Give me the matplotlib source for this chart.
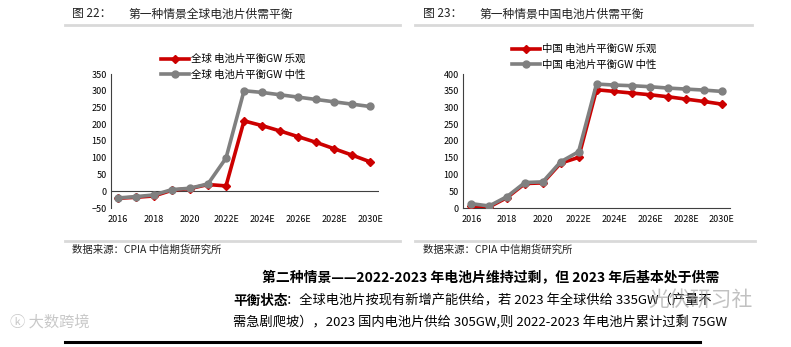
import matplotlib.pyplot as plt
from matplotlib.lines import Line2D

plt.rcParams['font.family'] = ['Noto Sans CJK SC', 'DejaVu Sans']

W, H = 791, 347

years = ['2016', '2017', '2018', '2019', '2020', '2021', '2022E', '2023E', '2024E',
         '2025E', '2026E', '2027E', '2028E', '2029E', '2030E']
tick_labels = ['2016', '2018', '2020', '2022E', '2024E', '2026E', '2028E', '2030E']

global_opt = [-21, -18, -14, 3, 8, 20, 16, 210, 196, 180, 163, 146, 127, 108, 88]
global_neu = [-20, -16, -11, 5, 9, 22, 99, 300, 295, 288, 281, 274, 267, 260, 253]
china_opt = [5, 3, 31, 73, 75, 134, 151, 353, 348, 343, 338, 332, 325, 318, 310]
china_neu = [13, 6, 34, 76, 78, 138, 168, 370, 367, 365, 362, 358, 355, 352, 348]

red = '#CC0000'
gray = '#808080'


def fx(x):
    return x / W


def fy(y):
    return 1 - y / H


fig = plt.figure(figsize=(W / 100, H / 100), dpi=100)


def draw(box, opt, neu, ylim, yticks, xlim, labels, zero_line, leg_xy):
    l, t, r, b = box
    ax = fig.add_axes([fx(l), fy(b), fx(r - l), (b - t) / H])
    x = list(range(len(years)))
    ax.plot(x, opt, color=red, lw=2.6, marker='D', ms=4.5, label=labels[0], zorder=3)
    ax.plot(x, neu, color=gray, lw=2.6, marker='o', ms=5, label=labels[1], zorder=4)
    ax.set_xlim(*xlim)
    ax.set_ylim(*ylim)
    ax.set_yticks(yticks)
    ax.set_xticks(range(0, len(years), 2))
    ax.set_xticklabels(tick_labels)
    ax.tick_params(length=0, labelsize=6.5, pad=3)
    for s in ['top', 'right']:
        ax.spines[s].set_visible(False)
    ax.spines['left'].set_color('#404040')
    ax.spines['left'].set_linewidth(0.8)
    if zero_line:
        ax.spines['bottom'].set_visible(False)
        ax.axhline(0, color='#404040', lw=0.8, zorder=1)
    else:
        ax.spines['bottom'].set_color('#404040')
        ax.spines['bottom'].set_linewidth(0.8)
    ax.tick_params(axis='x', pad=5)
    ax.legend(loc='upper left', bbox_to_anchor=(fx(leg_xy[0]), fy(leg_xy[1])),
              bbox_transform=fig.transFigure, frameon=False, fontsize=7.5,
              borderpad=0, borderaxespad=0, handlelength=2.7, handletextpad=0.2,
              labelspacing=0.55)
    return ax


draw((111, 74, 379, 208), global_opt, global_neu, (-50, 350), range(-50, 351, 50),
     (-0.39, 14.5), ['全球 电池片平衡GW 乐观', '全球 电池片平衡GW 中性'], True, (161, 54))
draw((463, 74, 730, 208), china_opt, china_neu, (0, 400), range(0, 401, 50),
     (-0.46, 14.46), ['中国 电池片平衡GW 乐观', '中国 电池片平衡GW 中性'], False, (512, 44))

# titles
fig.text(fx(72), fy(14), '图 22：', fontsize=8.5, va='center', color='#222222')
fig.text(fx(128), fy(14), '第一种情景全球电池片供需平衡', fontsize=8.5, va='center', color='#222222')
fig.text(fx(423), fy(14), '图 23：', fontsize=8.5, va='center', color='#222222')
fig.text(fx(479), fy(14), '第一种情景中国电池片供需平衡', fontsize=8.5, va='center', color='#222222')
for x0, x1, y in [(65, 400, 25), (415, 752, 25), (65, 400, 241), (415, 755, 241)]:
    fig.add_artist(Line2D([fx(x0), fx(x1)], [fy(y), fy(y)], color='#D9D9D9', lw=2))

# sources
fig.text(fx(72), fy(250), '数据来源：CPIA 中信期货研究所', fontsize=7.5, va='center', color='#222222')
fig.text(fx(423), fy(250), '数据来源：CPIA 中信期货研究所', fontsize=7.5, va='center', color='#222222')

# paragraph
fig.text(fx(262), fy(277), '第二种情景——2022-2023 年电池片维持过剩，但 2023 年后基本处于供需',
         fontsize=10, fontweight='bold', va='center', color='black')
fig.text(fx(233), fy(301), '平衡状态', fontsize=9.8, fontweight='bold', va='center', color='black')
fig.text(fx(286), fy(301), '：全球电池片按现有新增产能供给，若 2023 年全球供给 335GW（产量不',
         fontsize=9.5, va='center', color='black')
fig.text(fx(233), fy(323), '需急剧爬坡），2023 国内电池片供给 305GW,则 2022-2023 年电池片累计过剩 75GW',
         fontsize=9.5, va='center', color='black')
fig.add_artist(Line2D([fx(65), fx(700)], [fy(342), fy(342)], color='black', lw=2.2))

# watermarks
fig.text(fx(10), fy(322), 'ⓚ 大数跨境', fontsize=11, va='center', color='#BBBBBB', alpha=0.8)
fig.text(fx(648), fy(300), '光伏研习社', fontsize=15, va='center', color='#999999', alpha=0.6)

fig.savefig('out.png', dpi=100)
